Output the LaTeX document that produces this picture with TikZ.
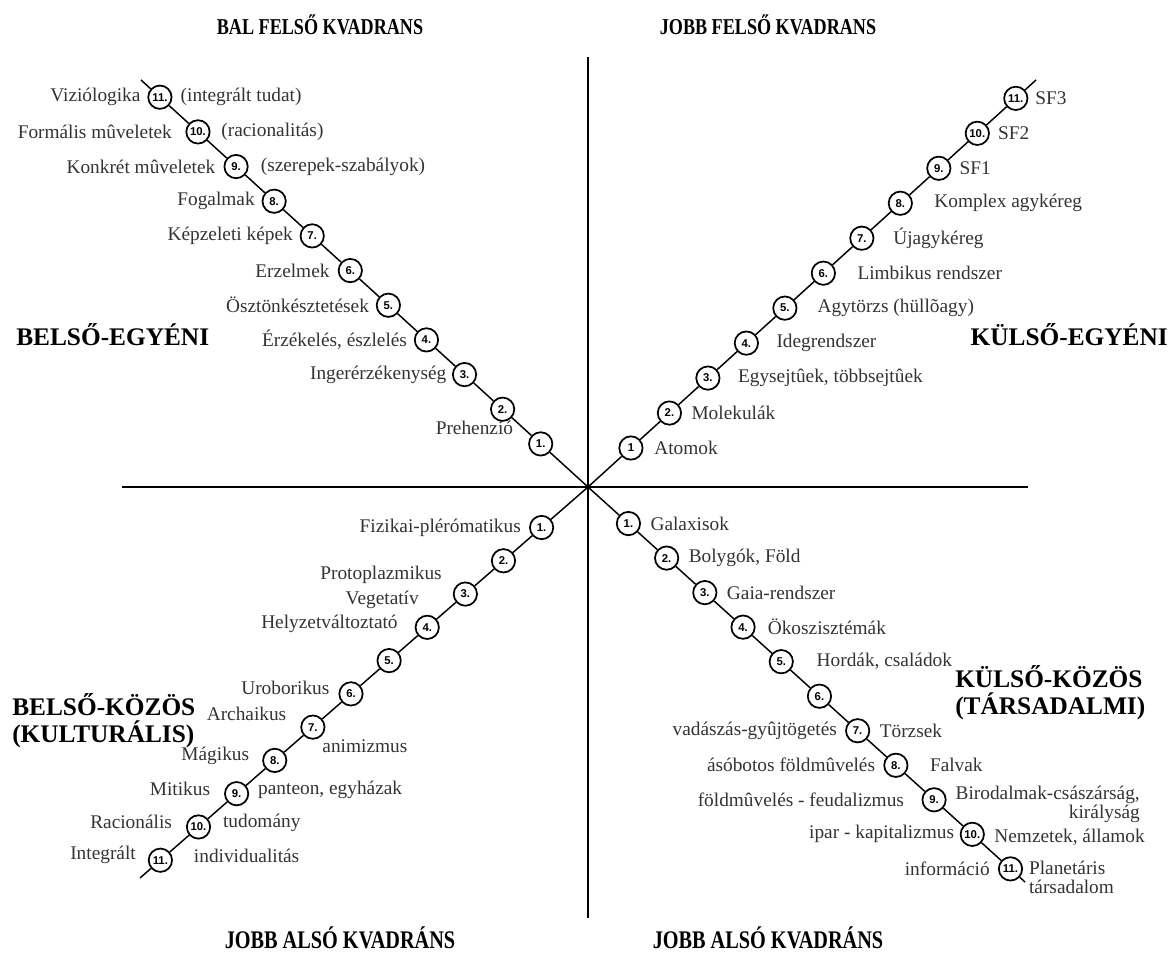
\documentclass[tikz,border=0pt]{standalone}
\usepackage{fontspec}
\setmainfont{Liberation Serif}
\newfontfamily\kvadfont[FakeStretch=0.8]{Liberation Serif}
\newfontfamily\numfont{Liberation Sans}
\usetikzlibrary{positioning,calc}

\tikzset{
	fok/.style={circle,draw,fill=white,line width=1.3pt,minimum size=17.5pt,inner sep=0pt,
		font=\numfont\bfseries\fontsize{8.5}{8.5}\selectfont},
	lab/.style={font=\fontsize{14.5}{16}\selectfont,text=black!80,inner sep=1pt},
	fej/.style={font=\bfseries\fontsize{19}{20}\selectfont,align=left,inner sep=0pt},
	kvad/.style={font=\kvadfont\bfseries\fontsize{17}{17}\selectfont,inner sep=0pt},
	lepcso/.style={line width=1.1pt},
	tengely/.style={line width=2.2pt}
}

\begin{document}
\begin{tikzpicture}[x=0.75pt,y=-0.75pt]
	\useasboundingbox (0,0) rectangle (1173,952);
	
	\coordinate (O) at (588,487);
	\coordinate (fel) at (588,57);
	\coordinate (le) at (588,918);
	\coordinate (bal) at (122,487);
	\coordinate (jobb) at (1028,487);
	\coordinate (tlE) at (141,80);
	\coordinate (trE) at (1036,80);
	\coordinate (blE) at (140,878);
	\coordinate (brE) at (1025,882);
	
	\draw[tengely] (fel) -- (le);
	\draw[tengely] (bal) -- (jobb);
	
	% fokozatok a negy atlon
	\foreach \q/\a/\b/\egy in {tl/12.5/51.5/1., tr/6/52/1, bl/11/50.6/1., br/3/51.5/1.}
	{
		\foreach \k in {1,...,11}
		{
			\pgfmathsetmacro{\d}{(\a+\b*\k)*0.75}
			\node[fok] (\q\k) at ($(O)!\d pt!(\q E)$) {\ifnum\k=1 \egy\else\k.\fi};
		}
		\draw[lepcso] (O) -- (\q1);
		\foreach \k [evaluate=\k as \n using int(\k+1)] in {1,...,10}
		\draw[lepcso] (\q\k) -- (\q\n);
		\draw[lepcso] (\q11) -- (\q E);
	}
	
	% bal felso
	\node[lab,left=4pt of tl11] (viz) {Viziólogika};
	\node[lab,right=5pt of tl11] (intt) {(integrált tudat)};
	\node[lab,left=9pt of tl10] (form) {Formális mûveletek};
	\node[lab,right=7pt of tl10] (rac) {(racionalitás)};
	\node[lab,left=5pt of tl9] (konk) {Konkrét mûveletek};
	\node[lab,right=8pt of tl9] (szer) {(szerepek-szabályok)};
	\node[lab,left=4pt of tl8] (fog) {Fogalmak};
	\node[lab,left=4pt of tl7] (kepz) {Képzeleti képek};
	\node[lab,left=5pt of tl6] (erz) {Erzelmek};
	\node[lab,left=4pt of tl5] (oszt) {Ösztönkésztetések};
	\node[lab,left=4pt of tl4] (erzek) {Érzékelés, észlelés};
	\node[lab,left=3pt of tl3] (inger) {Ingerérzékenység};
	\node[lab,anchor=east] (preh) at ($(tl1)+(-26,-16)$) {Prehenzió};
	
	% jobb felso
	\node[lab,right=4pt of tr11] (sf3) {SF3};
	\node[lab,right=5pt of tr10] (sf2) {SF2};
	\node[lab,right=5pt of tr9] (sf1) {SF1};
	\node[lab,right=15pt of tr8] (komp) {Komplex agykéreg};
	\node[lab,right=13pt of tr7] (uj) {Újagykéreg};
	\node[lab,right=15pt of tr6] (limb) {Limbikus rendszer};
	\node[lab,right=14pt of tr5] (agyt) {Agytörzs (hüllõagy)};
	\node[lab,right=12pt of tr4] (ideg) {Idegrendszer};
	\node[lab,right=12pt of tr3] (egys) {Egysejtûek, többsejtûek};
	\node[lab,right=6pt of tr2] (mol) {Molekulák};
	\node[lab,right=7pt of tr1] (atom) {Atomok};
	
	% bal also
	\node[lab,left=5pt of bl1] (fiz) {Fizikai-plérómatikus};
	\node[lab,anchor=east] (proto) at ($(bl3)+(-22,-19)$) {Protoplazmikus};
	\node[lab,anchor=east] (veg) at ($(bl3)+(-45,6)$) {Vegetatív};
	\node[lab,anchor=east] (helyz) at ($(bl4)+(-28,-3)$) {Helyzetváltoztató};
	\node[lab,anchor=east] (urob) at ($(bl6)+(-20,-6)$) {Uroborikus};
	\node[lab,anchor=east] (arch) at ($(bl7)+(-25,-13)$) {Archaikus};
	\node[lab,anchor=west] (anim) at ($(bl7)+(8,19)$) {animizmus};
	\node[lab,anchor=east] (mag) at ($(bl8)+(-24,-5)$) {Mágikus};
	\node[lab,anchor=east] (mit) at ($(bl9)+(-25,-5)$) {Mitikus};
	\node[lab,anchor=west] (pant) at ($(bl9)+(20,-4)$) {panteon, egyházak};
	\node[lab,anchor=east] (racio) at ($(bl10)+(-25,-5)$) {Racionális};
	\node[lab,anchor=west] (tud) at ($(bl10)+(23,-4)$) {tudomány};
	\node[lab,anchor=east] (integ) at ($(bl11)+(-23,-5)$) {Integrált};
	\node[lab,anchor=west] (indiv) at ($(bl11)+(32,-4)$) {individualitás};
	
	% jobb also
	\node[lab,right=6pt of br1] (gal) {Galaxisok};
	\node[lab,right=6pt of br2] (boly) {Bolygók, Föld};
	\node[lab,right=6pt of br3] (gaia) {Gaia-rendszer};
	\node[lab,right=8pt of br4] (oko) {Ökoszisztémák};
	\node[lab,right=16pt of br5] (hord) {Hordák, családok};
	\node[lab,left=5pt of br7] (vad) {vadászás-gyûjtögetés};
	\node[lab,right=6pt of br7] (torzs) {Törzsek};
	\node[lab,left=5pt of br8] (aso) {ásóbotos földmûvelés};
	\node[lab,right=15pt of br8] (falv) {Falvak};
	\node[lab,left=12pt of br9] (foldm) {földmûvelés - feudalizmus};
	\node[lab,anchor=north west,align=right,font=\fontsize{14.5}{12.5}\selectfont] (biro) at ($(br9)+(20,-15)$) {Birodalmak-császárság,\\királyság};
	\node[lab,right=6pt of br10,yshift=-2pt] (nemz) {Nemzetek, államok};
	\node[lab,left=3pt of br10] (ipar) {ipar - kapitalizmus};
	\node[lab,left=5pt of br11] (info) {információ};
	\node[lab,anchor=north west,align=left,font=\fontsize{14.5}{14}\selectfont] (plan) at ($(br11)+(17,-9)$) {Planetáris\\társadalom};
	
	% negyed-cimek
	\node[fej,anchor=west] (be) at (16,335) {BELSŐ-EGYÉNI};
	\node[fej,anchor=east] (ke) at (1168,335) {KÜLSŐ-EGYÉNI};
	\node[fej,anchor=west] (bk) at (12,721) {BELSŐ-KÖZÖS\\(KULTURÁLIS)};
	\node[fej,anchor=west] (kk) at (955,693) {KÜLSŐ-KÖZÖS\\(TÁRSADALMI)};
	
	\node[kvad] (bfk) at (320,25) {BAL FELSŐ KVADRANS};
	\node[kvad] (jfk) at (768,25) {JOBB FELSŐ KVADRANS};
	\node[kvad,font=\kvadfont\bfseries\fontsize{19}{19}\selectfont] (jak1) at (340,938) {JOBB ALSÓ KVADRÁNS};
	\node[kvad,font=\kvadfont\bfseries\fontsize{19}{19}\selectfont] (jak2) at (768,938) {JOBB ALSÓ KVADRÁNS};
\end{tikzpicture}
\end{document}
